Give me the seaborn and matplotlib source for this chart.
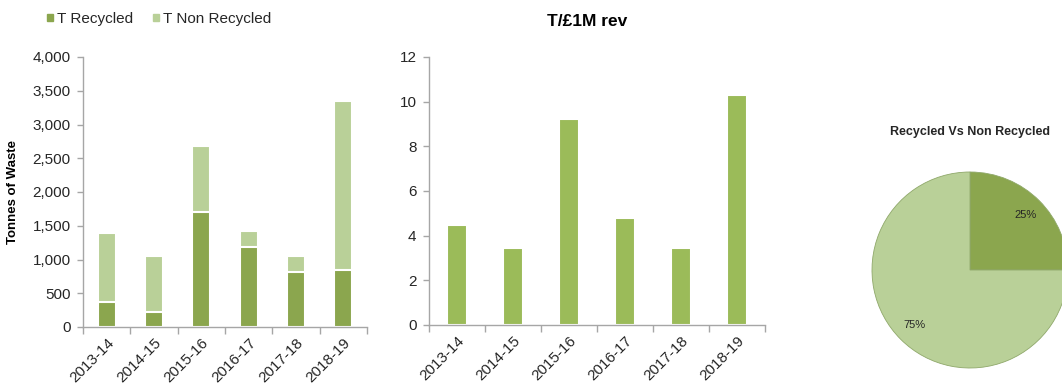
import matplotlib
matplotlib.use("Agg")
import matplotlib.pyplot as plt
import seaborn as sns
import numpy as np
from matplotlib.patches import Patch
from matplotlib.ticker import FixedLocator, FuncFormatter

# ---- data ----
years = ["2013-14", "2014-15", "2015-16", "2016-17", "2017-18", "2018-19"]
t_recycled = [375, 215, 1700, 1182, 822, 847]
t_non_recycled = [1015, 830, 980, 242, 237, 2503]
t_per_1m_rev = [4.47, 3.43, 9.24, 4.77, 3.43, 10.32]
pie_labels = ["Recycled", "Non Recycled"]
pie_values = [25, 75]

DARK = "#8ba64e"
LIGHT = "#b9d098"
MID = "#9bbb59"
SPINE = "#a6a6a6"
TXT = "#262626"

sns.set_theme(style="white")
plt.rcParams["font.family"] = ["Liberation Sans", "DejaVu Sans"]

W, H = 1062, 385
fig = plt.figure(figsize=(W / 100, H / 100), dpi=100)


def px_axes(x0, y0, x1, y1):
    return fig.add_axes([x0 / W, 1 - y1 / H, (x1 - x0) / W, (y1 - y0) / H])


def style_axis(ax, ymax, step, fmt):
    for s in ["top", "right"]:
        ax.spines[s].set_visible(False)
    for s in ["left", "bottom"]:
        ax.spines[s].set_color(SPINE)
        ax.spines[s].set_linewidth(1.0)
    ax.set_ylim(0, ymax)
    ax.set_xlim(-0.5, len(years) - 0.5)
    ax.yaxis.set_major_locator(FixedLocator(np.arange(0, ymax + step / 2, step)))
    ax.yaxis.set_major_formatter(FuncFormatter(fmt))
    ax.tick_params(axis="y", which="major", left=True, length=4, width=1,
                   color=SPINE, labelsize=11, labelcolor=TXT, pad=5)
    ax.set_xticks(range(len(years)))
    ax.set_xticklabels(years, rotation=45, ha="right", rotation_mode="anchor",
                       fontsize=11, color=TXT)
    ax.tick_params(axis="x", which="major", bottom=True, length=0, pad=6)
    ax.xaxis.set_minor_locator(FixedLocator(np.arange(-0.5, len(years), 1.0)))
    ax.tick_params(axis="x", which="minor", bottom=True, length=5, width=1,
                   color=SPINE)
    ax.set_xlabel("")
    ax.grid(False)


# ---- left: stacked tonnes ----
ax1 = px_axes(83, 57, 367, 327)
totals = [r + n for r, n in zip(t_recycled, t_non_recycled)]
sns.barplot(x=years, y=totals, color=LIGHT, width=0.38, edgecolor="white",
            linewidth=1.5, saturation=1, ax=ax1)
sns.barplot(x=years, y=t_recycled, color=DARK, width=0.38, edgecolor="white",
            linewidth=1.5, saturation=1, ax=ax1)
style_axis(ax1, 4000, 500, lambda v, p: f"{int(v):,}")
ax1.set_ylabel("Tonnes of Waste", fontsize=9.5, fontweight="bold", color="black")
ax1.yaxis.set_label_coords(-(83 - 19) / 284, 0.5)

fig.legend(handles=[Patch(color=DARK, label="T Recycled"),
                    Patch(color=LIGHT, label="T Non Recycled")],
           loc="center left", bbox_to_anchor=(47 / W, 1 - 19 / H), ncol=2,
           frameon=False, fontsize=11, handlelength=0.4, handleheight=0.4,
           handletextpad=0.26, columnspacing=1.3, borderpad=0,
           borderaxespad=0, labelcolor=TXT)

# ---- middle: T per £1M revenue ----
ax2 = px_axes(429, 57, 765, 325)
sns.barplot(x=years, y=t_per_1m_rev, color=MID, width=0.35, edgecolor="white",
            linewidth=1.5, saturation=1, ax=ax2)
style_axis(ax2, 12, 2, lambda v, p: f"{int(v)}")
ax2.set_ylabel("")
fig.text(587 / W, 1 - 22 / H, "T/£1M rev", ha="center", va="center",
         fontsize=12.5, fontweight="bold", color="black")

# ---- right: pie ----
ax3 = px_axes(872, 172, 1068, 368)
wedges, texts, autotexts = ax3.pie(
    pie_values, colors=[DARK, LIGHT], startangle=90, counterclock=False,
    autopct=lambda p: f"{p:.0f}%", pctdistance=0.8,
    wedgeprops=dict(edgecolor="#8fa86a", linewidth=0.6),
    textprops=dict(fontsize=8, color=TXT))
ax3.set_xlim(-1, 1)
ax3.set_ylim(-1, 1)
ax3.set_aspect("equal")
ax3.axis("off")
fig.text(970 / W, 1 - 132 / H, "Recycled Vs Non Recycled", ha="center",
         va="center", fontsize=9, fontweight="bold", color=TXT)

fig.savefig("out.png", dpi=100)
